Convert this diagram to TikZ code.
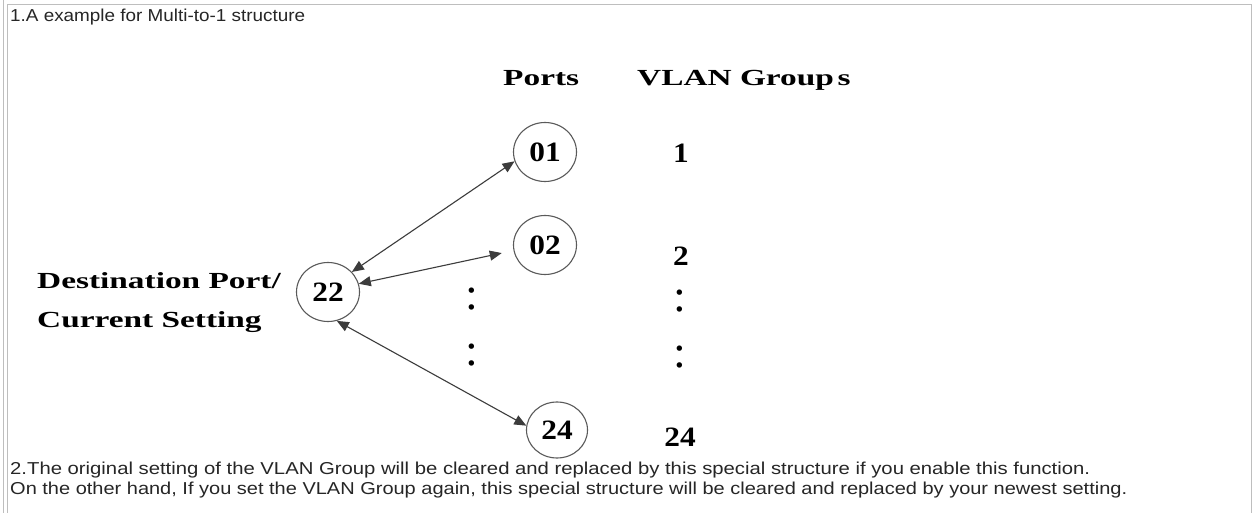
\documentclass[tikz,border=0pt]{standalone}
\usepackage{fontspec}
\setmainfont{Liberation Serif}
\newfontfamily\arialfont{Liberation Sans}
\newfontfamily\widefont[FakeStretch=1.45]{Liberation Serif}
\newfontfamily\digitfont[FakeStretch=1.12]{Liberation Serif}
\usetikzlibrary{arrows.meta,shapes.geometric}
\definecolor{framegray}{RGB}{190,190,190}
\definecolor{linegray}{RGB}{60,60,60}
\definecolor{circgray}{RGB}{90,90,90}
\tikzset{
  heading/.style={inner sep=0pt, anchor=base west, font=\widefont\bfseries\fontsize{23}{23}\selectfont},
  portnode/.style={ellipse, draw=circgray, line width=1.1pt, minimum width=63pt, minimum height=59pt, inner sep=0pt, font=\digitfont\bfseries\fontsize{28}{28}\selectfont},
  grouplabel/.style={inner sep=0pt, font=\digitfont\bfseries\fontsize{28}{28}\selectfont},
  dotsnode/.style={inner sep=0pt, font=\fontsize{46}{46}\selectfont},
  note/.style={inner sep=0pt, anchor=base west, font=\arialfont, text=black!85},
  link/.style={draw=linegray, line width=1.1pt, {Triangle[length=12pt,width=10pt]}-{Triangle[length=12pt,width=10pt]}}
}
\begin{document}
\begin{tikzpicture}[x=1pt,y=-1pt]
\useasboundingbox (0,0) rectangle (1254,513);
\fill[white] (0,0) rectangle (1254,513);
% frame
\draw[framegray, line width=1pt] (3,0) -- (3,513);
\draw[framegray, line width=1pt] (7,513) -- (7,5) -- (1251,5) -- (1251,513);

% texts
\node[note] (title) at (10,22) {\resizebox{295pt}{12.5pt}{1.A example for Multi-to-1 structure}};
\node[heading] (ports) at (503,86) {Ports};
\node[heading] (groups) at (637,86) {VLAN Group\,s};
\node[heading] (dest1) at (37,289) {Destination Port/};
\node[heading] (dest2) at (37,327) {Current Setting};

% ports
\node[portnode] (p01) at (545,152) {01};
\node[portnode] (p02) at (545,245) {02};
\node[portnode] (p22) at (328,292) {22};
\node[portnode, minimum width=61pt, minimum height=56pt] (p24) at (557,430) {24};

\node[dotsnode] (pd1) at (472,299) {:};
\node[dotsnode] (pd2) at (472,355) {:};

% groups
\node[grouplabel] (g1) at (681,153) {1};
\node[grouplabel] (g2) at (681,256) {2};
\node[dotsnode] (gd1) at (680,301) {:};
\node[dotsnode] (gd2) at (680,357) {:};
\node[grouplabel] (g24) at (680,437) {24};

% links
\draw[link] (p22.40) -- (p01.197);
\draw[link, shorten >=12pt] (p22.15) -- (p02.190);
\draw[link] (p22.287) -- (p24.172);

% bottom notes
\node[note] (n1) at (10,474) {\resizebox{1080pt}{12.5pt}{2.The original setting of the VLAN Group will be cleared and replaced by this special structure if you enable this function.}};
\node[note] (n2) at (10,494) {\resizebox{1117pt}{12.5pt}{On the other hand, If you set the VLAN Group again, this special structure will be cleared and replaced by your newest setting.}};
\end{tikzpicture}
\end{document}
